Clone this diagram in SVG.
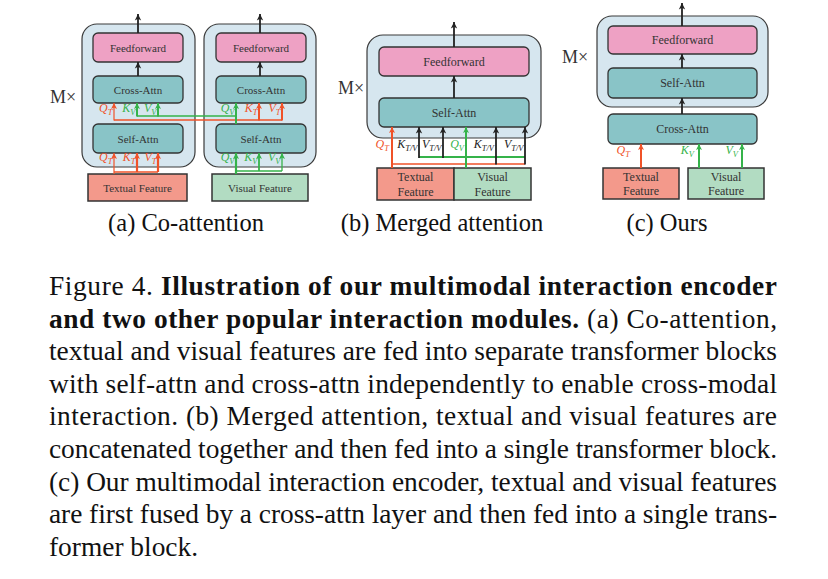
<svg xmlns="http://www.w3.org/2000/svg" width="828" height="579" viewBox="0 0 828 579">
<style>
.outer{fill:#d6e6ef;stroke:#3a3a3a;stroke-width:1.2}
.ff{fill:#eea1c4;stroke:#333;stroke-width:1.3}
.att{fill:#89c4c7;stroke:#333;stroke-width:1.3}
.tf{fill:#f3998b;stroke:#333;stroke-width:1.5}
.vf{fill:#b2dcc2;stroke:#333;stroke-width:1.5}
.nt{font-family:"Liberation Serif","Times New Roman",serif;fill:#333;text-anchor:middle}
.s11{font-size:11px}
.s12{font-size:12px}
.lb{font-family:"Liberation Serif","Times New Roman",serif;font-style:italic;font-size:12px;text-anchor:end}
.sub{font-size:8.5px}
.r{fill:#f05228}
.g{fill:#35b34a}
.k{fill:#222}
.mx{font-family:"Liberation Serif","Times New Roman",serif;font-size:18px;fill:#333}
.cap{font-family:"Liberation Serif","Times New Roman",serif;font-size:24.5px;fill:#111;text-anchor:middle}
.body{font-family:"Liberation Serif","Times New Roman",serif;font-size:27.4px;fill:#111}
.bd{font-weight:bold}
.lk{stroke:#222;stroke-width:1.8;fill:none}
.lr{stroke:#f05228;stroke-width:1.5;fill:none}
.lg{stroke:#35b34a;stroke-width:1.5;fill:none}
</style>
<defs>
<marker id="ak" viewBox="-7 -4 8 8" refX="0" refY="0" markerWidth="8" markerHeight="8" markerUnits="userSpaceOnUse" orient="auto"><path d="M0,0 L-6.5,-3.2 L-4.8,0 L-6.5,3.2 Z" fill="#222"/></marker>
<marker id="ar" viewBox="-7 -4 8 8" refX="0" refY="0" markerWidth="8" markerHeight="8" markerUnits="userSpaceOnUse" orient="auto"><path d="M0,0 L-6,-3 L-4.5,0 L-6,3 Z" fill="#f05228"/></marker>
<marker id="ag" viewBox="-7 -4 8 8" refX="0" refY="0" markerWidth="8" markerHeight="8" markerUnits="userSpaceOnUse" orient="auto"><path d="M0,0 L-6,-3 L-4.5,0 L-6,3 Z" fill="#35b34a"/></marker>
</defs>

<!-- Panel (a) -->
<g id="a-left-block"><rect class="outer" x="82" y="24" width="113" height="143" rx="15"/></g>
<g id="a-right-block"><rect class="outer" x="204" y="24" width="112" height="143" rx="15"/></g>
<g id="a-left-ff"><rect class="ff" x="93" y="33" width="90" height="29" rx="5"/><text class="nt s11" x="138" y="51.5">Feedforward</text></g>
<g id="a-left-cross"><rect class="att" x="93" y="76" width="90" height="27" rx="5"/><text class="nt s11" x="138" y="93.5">Cross-Attn</text></g>
<g id="a-left-self"><rect class="att" x="93" y="124" width="90" height="29" rx="5"/><text class="nt s11" x="138" y="142.5">Self-Attn</text></g>
<g id="a-right-ff"><rect class="ff" x="216" y="33" width="90" height="29" rx="5"/><text class="nt s11" x="261" y="51.5">Feedforward</text></g>
<g id="a-right-cross"><rect class="att" x="216" y="76" width="90" height="27" rx="5"/><text class="nt s11" x="261" y="93.5">Cross-Attn</text></g>
<g id="a-right-self"><rect class="att" x="216" y="124" width="90" height="29" rx="5"/><text class="nt s11" x="261" y="142.5">Self-Attn</text></g>
<g id="a-textual"><rect class="tf" x="88" y="174" width="99" height="27"/><text class="nt s11" x="137.5" y="191.5">Textual Feature</text></g>
<g id="a-visual"><rect class="vf" x="212" y="174" width="96" height="27"/><text class="nt s11" x="260" y="191.5">Visual Feature</text></g>
<text class="mx" x="50" y="103">M×</text>

<!-- Panel (b) -->
<g id="b-block"><rect class="outer" x="367" y="35" width="174" height="103" rx="16"/></g>
<g id="b-ff"><rect class="ff" x="379" y="47" width="150" height="29" rx="5"/><text class="nt s12" x="454" y="65.5">Feedforward</text></g>
<g id="b-self"><rect class="att" x="379" y="98" width="150" height="29" rx="5"/><text class="nt s12" x="454" y="116.5">Self-Attn</text></g>
<g id="b-textual"><rect class="tf" x="377" y="168" width="77" height="32"/><text class="nt s12" x="415.5" y="181">Textual</text><text class="nt s12" x="415.5" y="196">Feature</text></g>
<g id="b-visual"><rect class="vf" x="454" y="168" width="77" height="32"/><text class="nt s12" x="492.5" y="181">Visual</text><text class="nt s12" x="492.5" y="196">Feature</text></g>
<text class="mx" x="338" y="94">M×</text>

<!-- Panel (c) -->
<g id="c-block"><rect class="outer" x="597" y="16" width="171" height="91" rx="15"/></g>
<g id="c-ff"><rect class="ff" x="608" y="26" width="149" height="28" rx="5"/><text class="nt s12" x="682.5" y="44">Feedforward</text></g>
<g id="c-self"><rect class="att" x="608" y="68" width="149" height="30" rx="5"/><text class="nt s12" x="682.5" y="87">Self-Attn</text></g>
<g id="c-cross"><rect class="att" x="608" y="114" width="149" height="30" rx="5"/><text class="nt s12" x="682.5" y="133">Cross-Attn</text></g>
<g id="c-textual"><rect class="tf" x="603" y="168" width="76" height="31"/><text class="nt s12" x="641" y="180.5">Textual</text><text class="nt s12" x="641" y="195">Feature</text></g>
<g id="c-visual"><rect class="vf" x="688" y="168" width="76" height="31"/><text class="nt s12" x="726" y="180.5">Visual</text><text class="nt s12" x="726" y="195">Feature</text></g>
<text class="mx" x="562" y="63">M×</text>

<!-- Connectors -->
<g id="connectors">
<line class="lk" x1="138" y1="33" x2="138" y2="14" marker-end="url(#ak)"/>
<line class="lk" x1="138" y1="76" x2="138" y2="62" marker-end="url(#ak)"/>
<line class="lk" x1="260" y1="33" x2="260" y2="14" marker-end="url(#ak)"/>
<line class="lk" x1="260" y1="76" x2="260" y2="62" marker-end="url(#ak)"/>
<polyline class="lr" points="114,172 158,172"/>
<line class="lr" style="stroke-width:1.2" x1="114" y1="174" x2="114" y2="153" marker-end="url(#ar)"/>
<line class="lr" style="stroke-width:2.2" x1="137" y1="172" x2="137" y2="153" marker-end="url(#ar)"/>
<line class="lr" style="stroke-width:2.2" x1="158" y1="172" x2="158" y2="153" marker-end="url(#ar)"/>
<polyline class="lg" points="236,171 282,171"/>
<line class="lg" style="stroke-width:2.2" x1="236" y1="174" x2="236" y2="153" marker-end="url(#ag)"/>
<line class="lg" style="stroke-width:1.8" x1="259" y1="171" x2="259" y2="153" marker-end="url(#ag)"/>
<line class="lg" style="stroke-width:1.3" x1="282" y1="171" x2="282" y2="153" marker-end="url(#ag)"/>
<polyline class="lr" points="114,120 282,120"/>
<line class="lr" style="stroke-width:1.2" x1="114" y1="120.5" x2="114" y2="103" marker-end="url(#ar)"/>
<line class="lr" style="stroke-width:2" x1="259" y1="120.5" x2="259" y2="103" marker-end="url(#ar)"/>
<line class="lr" style="stroke-width:2" x1="282" y1="120.5" x2="282" y2="103" marker-end="url(#ar)"/>
<polyline class="lg" points="137,116 236,116"/>
<line class="lg" style="stroke-width:2" x1="137" y1="116.5" x2="137" y2="103" marker-end="url(#ag)"/>
<line class="lg" style="stroke-width:2" x1="158" y1="116.5" x2="158" y2="103" marker-end="url(#ag)"/>
<line class="lg" style="stroke-width:2" x1="236" y1="124" x2="236" y2="103" marker-end="url(#ag)"/>
<line class="lk" x1="454" y1="47" x2="454" y2="22" marker-end="url(#ak)"/>
<line class="lk" x1="454" y1="98" x2="454" y2="76" marker-end="url(#ak)"/>
<polyline class="lr" style="stroke-width:1.3" points="392,164 525,164"/>
<polyline class="lg" style="stroke-width:2" points="419,157 525,157"/>
<line class="lr" style="stroke-width:2" x1="392" y1="168" x2="392" y2="127" marker-end="url(#ar)"/>
<line class="lg" style="stroke-width:2" x1="466" y1="168" x2="466" y2="127" marker-end="url(#ag)"/>
<line class="lk" x1="419" y1="158" x2="419" y2="127" marker-end="url(#ak)"/>
<line class="lk" x1="443" y1="158" x2="443" y2="127" marker-end="url(#ak)"/>
<line class="lk" x1="496" y1="164.5" x2="496" y2="127" marker-end="url(#ak)"/>
<line class="lk" x1="525" y1="164.5" x2="525" y2="127" marker-end="url(#ak)"/>
<line class="lk" x1="682" y1="26" x2="682" y2="3" marker-end="url(#ak)"/>
<line class="lk" x1="682" y1="68" x2="682" y2="54" marker-end="url(#ak)"/>
<line class="lk" x1="682" y1="114" x2="682" y2="98" marker-end="url(#ak)"/>
<line class="lr" style="stroke-width:2" x1="641" y1="168" x2="641" y2="144" marker-end="url(#ar)"/>
<line class="lg" style="stroke-width:2" x1="699" y1="168" x2="699" y2="144" marker-end="url(#ag)"/>
<line class="lg" style="stroke-width:2" x1="742" y1="168" x2="742" y2="144" marker-end="url(#ag)"/>
</g>

<!-- Labels -->
<g id="labels">
<text class="lb r" x="112.5" y="112">Q<tspan class="sub" dy="2.5">T</tspan></text>
<text class="lb g" x="135.5" y="112">K<tspan class="sub" dy="2.5">V</tspan></text>
<text class="lb g" x="156.5" y="112">V<tspan class="sub" dy="2.5">V</tspan></text>
<text class="lb g" x="234.5" y="112">Q<tspan class="sub" dy="2.5">V</tspan></text>
<text class="lb r" x="257.5" y="112">K<tspan class="sub" dy="2.5">T</tspan></text>
<text class="lb r" x="280.5" y="112">V<tspan class="sub" dy="2.5">T</tspan></text>
<text class="lb r" x="112.5" y="161">Q<tspan class="sub" dy="2.5">T</tspan></text>
<text class="lb r" x="135.5" y="161">K<tspan class="sub" dy="2.5">T</tspan></text>
<text class="lb r" x="156.5" y="161">V<tspan class="sub" dy="2.5">T</tspan></text>
<text class="lb g" x="234.5" y="161">Q<tspan class="sub" dy="2.5">V</tspan></text>
<text class="lb g" x="257.5" y="161">K<tspan class="sub" dy="2.5">V</tspan></text>
<text class="lb g" x="280.5" y="161">V<tspan class="sub" dy="2.5">V</tspan></text>
<text class="lb r" x="389" y="148">Q<tspan class="sub" dy="2.5">T</tspan></text>
<text class="lb k" x="417.5" y="148">K<tspan class="sub" dy="2.5">T/V</tspan></text>
<text class="lb k" x="441.5" y="148">V<tspan class="sub" dy="2.5">T/V</tspan></text>
<text class="lb g" x="464" y="148">Q<tspan class="sub" dy="2.5">V</tspan></text>
<text class="lb k" x="494" y="148">K<tspan class="sub" dy="2.5">T/V</tspan></text>
<text class="lb k" x="523.5" y="148">V<tspan class="sub" dy="2.5">T/V</tspan></text>
<text class="lb r" x="630" y="154">Q<tspan class="sub" dy="2.5">T</tspan></text>
<text class="lb g" x="694" y="154">K<tspan class="sub" dy="2.5">V</tspan></text>
<text class="lb g" x="738" y="154">V<tspan class="sub" dy="2.5">V</tspan></text>
</g>

<!-- Subcaptions -->
<text class="cap" x="186" y="231">(a) Co-attention</text>
<text class="cap" x="442" y="231">(b) Merged attention</text>
<text class="cap" x="667" y="231">(c) Ours</text>

<!-- Figure caption -->
<text class="body" x="49" y="295" textLength="728" lengthAdjust="spacing">Figure 4. <tspan class="bd">Illustration of our multimodal interaction encoder</tspan></text>
<text class="body" x="49" y="327.6" textLength="728" lengthAdjust="spacing"><tspan class="bd">and two other popular interaction modules.</tspan> (a) Co-attention,</text>
<text class="body" x="49" y="360.2" textLength="728" lengthAdjust="spacing">textual and visual features are fed into separate transformer blocks</text>
<text class="body" x="49" y="392.8" textLength="728" lengthAdjust="spacing">with self-attn and cross-attn independently to enable cross-modal</text>
<text class="body" x="49" y="425.4" textLength="728" lengthAdjust="spacing">interaction. (b) Merged attention, textual and visual features are</text>
<text class="body" x="49" y="458" textLength="728" lengthAdjust="spacing">concatenated together and then fed into a single transformer block.</text>
<text class="body" x="49" y="490.6" textLength="728" lengthAdjust="spacing">(c) Our multimodal interaction encoder, textual and visual features</text>
<text class="body" x="49" y="523.2" textLength="728" lengthAdjust="spacing">are first fused by a cross-attn layer and then fed into a single trans-</text>
<text class="body" x="49" y="555.8">former block.</text>
</svg>
